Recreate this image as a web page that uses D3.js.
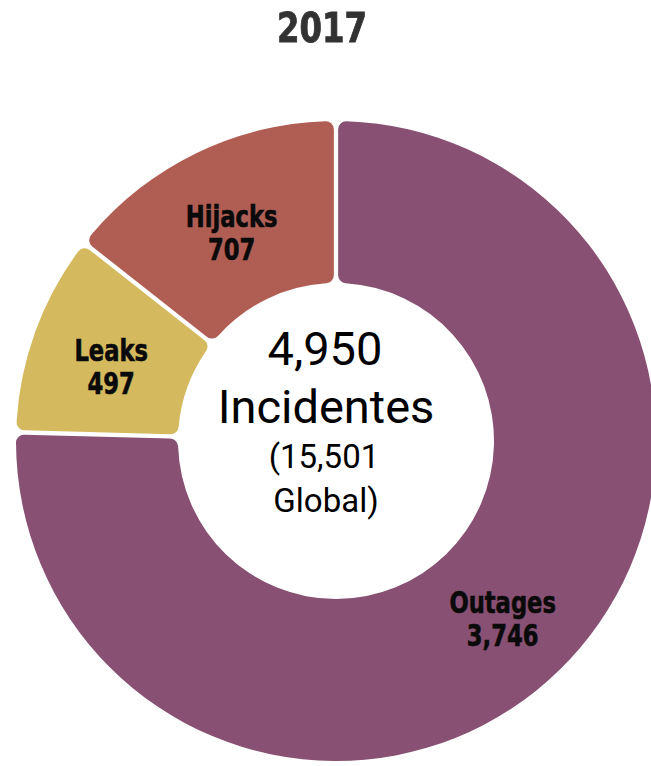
<!DOCTYPE html>
<html>
<head>
<meta charset="utf-8">
<style>
	body { margin: 0; background: #fff; }
	svg { display: block; }
</style>
<script src="https://cdn.jsdelivr.net/npm/d3@7"></script>
</head>
<body>
<svg id="Donut"></svg>
<script>
	// data
	let categories = ["Outages", "Leaks", "Hijacks"];
	let values = [3746, 497, 707];
	let colors = ["#885073", "#d5b95e", "#b05e54"];
	let title = "2017";
	let centerLines = ["4,950", "Incidentes", "(15,501", "Global)"];

	function getConfig() {
		let width = 651;
		let height = 766;
		let cx = 336, cy = 441;
		let outer = 320, inner = 158;
		let container = d3.select("#Donut")
			.attr("width", width)
			.attr("height", height);
		return { width, height, cx, cy, outer, inner, container };
	}

	function drawDonut(config) {
		let { container, cx, cy, outer, inner } = config;
		let data = categories.map((c, i) => ({ name: c, value: values[i], color: colors[i] }));

		let pie = d3.pie()
			.sort(null)
			.value(d => d.value)
			.padAngle(0.012);

		let arc = d3.arc()
			.innerRadius(inner)
			.outerRadius(outer)
			.cornerRadius(8);

		let labelArc = d3.arc()
			.innerRadius(inner)
			.outerRadius(outer);

		let body = container.append("g")
			.attr("transform", `translate(${cx},${cy})`);

		let arcs = pie(data);

		body.selectAll(".slice")
			.data(arcs)
			.enter().append("path")
			.attr("class", "slice")
			.attr("d", arc)
			.attr("fill", d => d.data.color);

		// condensed look: squeeze the bold font horizontally
		let labels = body.selectAll(".label")
			.data(arcs)
			.enter().append("text")
			.attr("class", "label")
			.attr("transform", d => {
				let [x, y] = labelArc.centroid(d);
				return `translate(${x},${y + 1}) scale(0.84,1)`;
			})
			.attr("text-anchor", "middle")
			.style("font-family", "'DejaVu Sans Condensed', 'DejaVu Sans', sans-serif")
			.style("font-weight", "bold")
			.style("font-size", "30px")
			.attr("fill", "#0a0a0a")
			.attr("stroke", "#0a0a0a")
			.attr("stroke-width", 0.6);

		labels.append("tspan")
			.attr("x", 0)
			.text(d => d.data.name);
		labels.append("tspan")
			.attr("x", 0)
			.attr("dy", 33)
			.text(d => d3.format(",")(d.data.value));
	}

	function drawTexts(config) {
		let { container } = config;

		let defs = container.append("defs");
		defs.append("filter").attr("id", "soft")
			.append("feGaussianBlur").attr("stdDeviation", 0.6);

		container.append("text")
			.attr("x", 322)
			.attr("y", 42)
			.attr("text-anchor", "middle")
			.attr("textLength", 90)
			.attr("lengthAdjust", "spacingAndGlyphs")
			.attr("filter", "url(#soft)")
			.style("font-family", "'DejaVu Sans Condensed', 'DejaVu Sans', sans-serif")
			.style("font-weight", "bold")
			.style("font-size", "41px")
			.attr("fill", "#333")
			.attr("stroke", "#333")
			.attr("stroke-width", 0.8)
			.text(title);

		let ys = [365, 423, 468, 512];
		let sizes = [47, 47, 33, 33];
		let xs = [325, 326, 324, 326];
		container.selectAll(".center")
			.data(centerLines)
			.enter().append("text")
			.attr("class", "center")
			.attr("x", (d, i) => xs[i])
			.attr("y", (d, i) => ys[i])
			.attr("text-anchor", "middle")
			.style("font-family", "Roboto, 'Open Sans', sans-serif")
			.style("font-size", (d, i) => sizes[i] + "px")
			.attr("fill", "#000")
			.text(d => d);
	}

	let config = getConfig();
	drawDonut(config);
	drawTexts(config);
</script>
</body>
</html>
